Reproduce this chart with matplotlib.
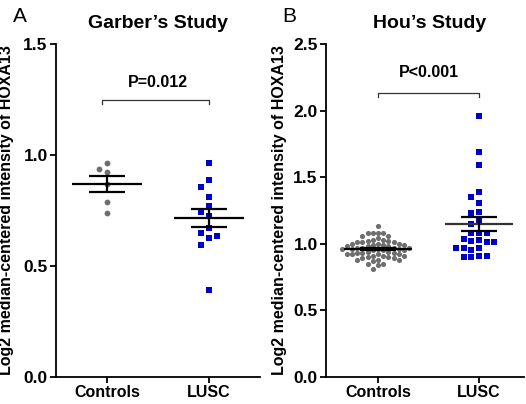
import numpy as np
import matplotlib
matplotlib.use("Agg")
import matplotlib.pyplot as plt

plt.rcParams['font.family'] = ['Liberation Sans', 'DejaVu Sans']

groups = ["Controls", "LUSC"]

# Garber's study
garber_ctrl = [0.963, 0.937, 0.922, 0.870, 0.787, 0.740]
garber_lusc = [0.965, 0.887, 0.854, 0.812, 0.770, 0.742, 0.727, 0.670,
               0.650, 0.637, 0.625, 0.595, 0.392]

# Hou's study
hou_ctrl = [1.13, 1.08, 1.08, 1.08, 1.08, 1.06, 1.06,
            1.04, 1.03, 1.03, 1.02, 1.02, 1.01, 1.01, 1.01, 1.00, 1.00, 1.00,
            0.99, 0.99, 0.99,
            0.98, 0.98, 0.98, 0.97, 0.97, 0.97, 0.97, 0.96, 0.96, 0.96, 0.96,
            0.95, 0.95, 0.95,
            0.94, 0.94, 0.93, 0.93, 0.93, 0.92, 0.92, 0.92, 0.92, 0.91, 0.91,
            0.91,
            0.90, 0.90, 0.89, 0.89, 0.88, 0.88, 0.88, 0.87,
            0.85, 0.85, 0.84, 0.81]
hou_lusc = [1.960, 1.686, 1.590, 1.392, 1.353, 1.308, 1.240, 1.228, 1.170,
            1.146, 1.083, 1.078, 1.078, 1.035, 1.028, 1.023, 1.015, 1.010,
            0.970, 0.970, 0.970, 0.953, 0.910, 0.908, 0.898, 0.898]

panels = [
    ("A", "Garber\u2019s Study", garber_ctrl, garber_lusc, "P=0.012", 1.248, 1.5),
    ("B", "Hou\u2019s Study", hou_ctrl, hou_lusc, "P<0.001", 2.133, 2.5),
]

grey = '#6e6e6e'
blue = '#0000c8'


def swarm(vals, step, ppu_x, ppu_y):
    # simple beeswarm: offsets in data units along x
    placed = []
    offs = np.zeros(len(vals))
    for j in np.argsort(vals)[::-1]:
        y = vals[j] * ppu_y
        k = 0
        while True:
            n = (k + 1) // 2 * (-1 if k % 2 else 1)
            x = n * step
            if all((x - px) ** 2 + (y - py) ** 2 >= (step * 0.95) ** 2
                   for px, py in placed):
                break
            k += 1
        placed.append((x, y))
        offs[j] = x / ppu_x
    return offs


fig = plt.figure(figsize=(5.26, 4.04), dpi=100)
rects = [[56 / 526, 27 / 404, 204 / 526, 333 / 404],
         [326 / 526, 27 / 404, 198 / 526, 333 / 404]]
xlims = [(-0.5, 1.5), (-0.515, 1.445)]
title_x = [158, 430]
letter_x = [20, 289]
ylabel_x = [-0.206, -0.199]
steps = [(7.8, 7.8), (5.2, 7.7)]
msizes = [(4.2, 4.3), (3.7, 4.3)]
ptext_gap = [7, 9]

for i, (letter, title, ctrl, lusc, ptext, py, ymax) in enumerate(panels):
    ax = fig.add_axes(rects[i])
    ppu_x = 102 if i == 0 else 101
    ppu_y = 333 / ymax
    for k, vals in enumerate([ctrl, lusc]):
        v = np.array(vals)
        x = k + swarm(v, steps[i][k], ppu_x, ppu_y)
        ax.plot(x, v, ls='none', marker='o' if k == 0 else 's',
                ms=msizes[i][k], mew=0, color=grey if k == 0 else blue,
                clip_on=False)

        # mean and SEM
        m = v.mean()
        se = v.std(ddof=1) / np.sqrt(len(v))
        col = '#333333' if (i == 1 and k == 1) else 'black'
        ax.hlines(m, k - 0.34, k + 0.34, color=col, lw=1.6, zorder=5)
        ax.hlines([m - se, m + se], k - 0.175, k + 0.175, color='black',
                  lw=1.6, zorder=5)
        ax.vlines(k, m - se, m + se, color='black', lw=1.6, zorder=5)

    # significance bracket
    tick = ymax * 0.012
    x0 = -0.05 if i == 0 else 0.0
    ax.plot([x0, x0, 1, 1], [py - tick, py, py, py - tick],
            color='#333333', lw=0.9)
    ax.annotate(ptext, xy=(0.5, py), xytext=(0, ptext_gap[i]),
                textcoords='offset points', ha='center', va='bottom',
                fontsize=11.5, fontweight='bold')

    ax.set_xlim(*xlims[i])
    ax.set_ylim(0, ymax)
    yt = np.arange(0, ymax + 0.01, 0.5)
    ax.set_yticks(yt)
    ax.set_yticklabels(["%.1f" % t for t in yt])
    ax.set_xticks([0, 1])
    ax.set_xticklabels(groups)
    for s in ['top', 'right']:
        ax.spines[s].set_visible(False)
    for s in ['left', 'bottom']:
        ax.spines[s].set_linewidth(1.3)
    ax.tick_params(direction='out', length=4, width=1.3, pad=2)
    ax.tick_params(axis='y', labelsize=12.5)
    ax.tick_params(axis='x', labelsize=11.5)
    for lab in ax.get_xticklabels() + ax.get_yticklabels():
        lab.set_fontweight('bold')
    ax.set_ylabel("Log2 median-centered intensity of HOXA13",
                  fontsize=11.5, fontweight='bold')
    ax.yaxis.set_label_coords(ylabel_x[i], 0.5)

    fig.text(title_x[i] / 526, 1 - 23 / 404, title, ha='center', va='center',
             fontsize=14, fontweight='bold')
    fig.text(letter_x[i] / 526, 1 - 17 / 404, letter, ha='center', va='center',
             fontsize=15)

fig.savefig("out.png", dpi=100)
